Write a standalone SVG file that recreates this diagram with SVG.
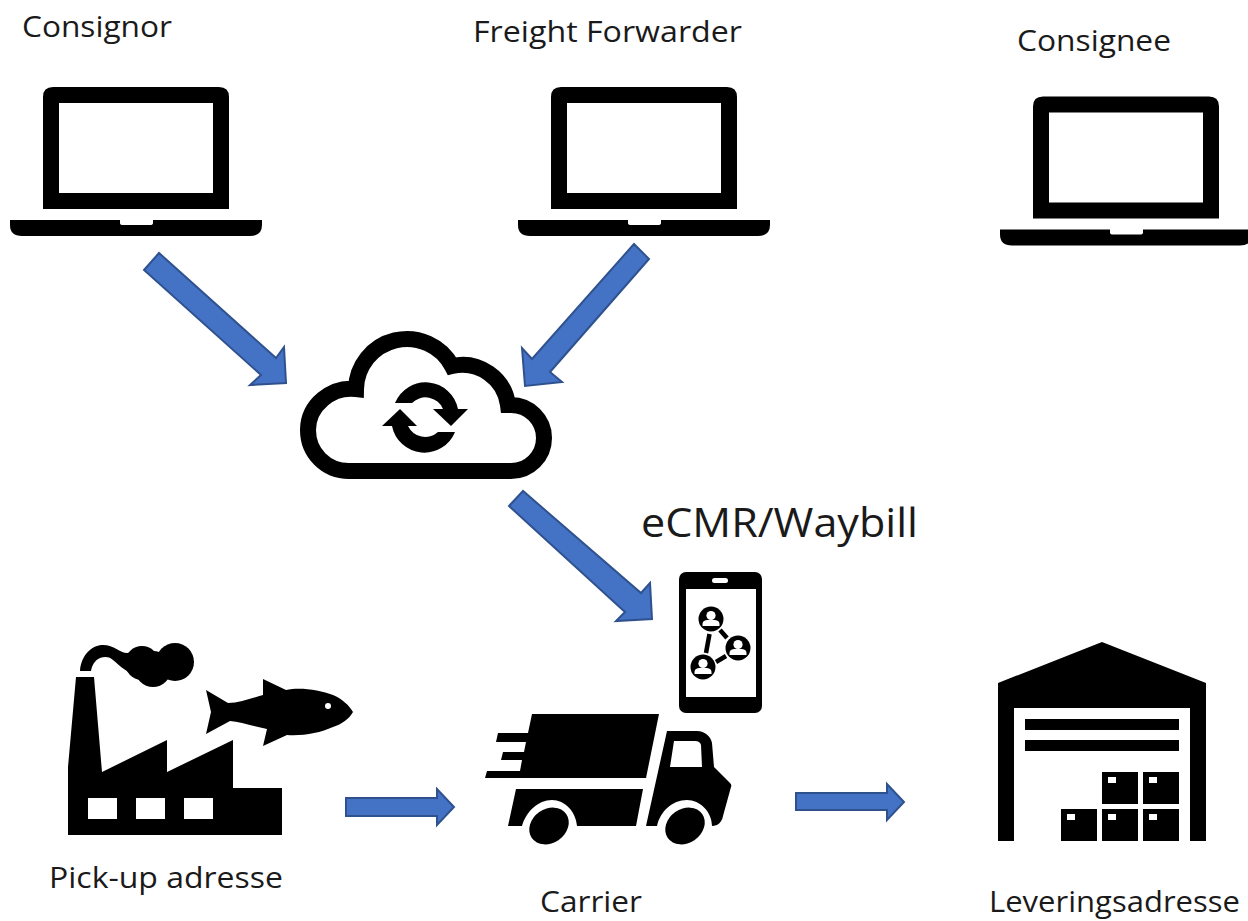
<svg xmlns="http://www.w3.org/2000/svg" width="1248" height="921" viewBox="0 0 1248 921">
<style>
.t{font-family:"Open Sans","Noto Sans","Liberation Sans",sans-serif;font-size:30px;fill:#1a1a1a}
.a{fill:#4472C4;stroke:#2F528F;stroke-width:2}
.k{fill:#000}
.w{fill:#fff}
</style>
<defs>
<g id="laptop">
<path class="k" fill-rule="evenodd" d="M53 87H219Q229 87 229 97V209H43V97Q43 87 53 87ZM59 103V193H213V103Z"/>
<path class="k" d="M10 220H120V223Q120 225 123 225H150Q153 225 153 223V220H262V225Q262 236 250 236H22Q10 236 10 225Z"/>
</g>
<g id="person">
<circle class="k" r="12.500"/>
<circle class="w" cy="-3.500" r="4.600"/>
<path class="w" d="M-8.500 7V5Q-8.500 1.500-4 1H4Q8.500 1.500 8.500 5V7Z"/>
</g>
</defs>
<rect width="1248" height="921" fill="#fff"/>
<g id="connectors">
<polygon class="a" points="159,253 144,270 261,375 250,385 286,383 284,347 276,358"/>
<polygon class="a" points="634,244 649,259 550,372 562,382 525,386 522,348 532,359"/>
<polygon class="a" points="523,491 509,506 625,612 616,621 652,619 650,583 641,593"/>
<polygon class="a" points="346,798 437,798 437,789 454,807 437,825 437,816 346,816"/>
<polygon class="a" points="796,793 887,793 887,784 904,802 887,820 887,810 796,810"/>
</g>
<g id="consignor"><use href="#laptop"/><text class="t" x="22" y="37" textLength="150" lengthAdjust="spacingAndGlyphs">Consignor</text></g>
<g id="freight-forwarder"><use href="#laptop" x="508"/><text class="t" x="473" y="42" textLength="269" lengthAdjust="spacingAndGlyphs">Freight Forwarder</text></g>
<g id="consignee"><use href="#laptop" transform="translate(990 9.500)"/><text class="t" x="1017" y="51" textLength="154" lengthAdjust="spacingAndGlyphs">Consignee</text></g>
<g id="cloud">
<path fill="#fff" stroke="#000" stroke-width="16" stroke-linejoin="miter" d="M349 471H511A33 33 0 0 0 511 405H508A46 46 0 0 0 452 366A51 51 0 0 0 356 389C332 386 308 405 308 430C308 453 326 471 349 471Z"/>
<path class="k" d="M395 403A33 33 0 0 1 458 409H443A19 19 0 0 0 412 403Z"/>
<polygon class="k" points="433,409 468,409 451,426"/>
<path class="k" d="M392 426A33 33 0 0 0 455 432H438A19 19 0 0 1 408 426Z"/>
<polygon class="k" points="382,426 417,426 400,409"/>
</g>
<g id="phone">
<text class="t" x="641" y="537" style="font-size:41px" textLength="277" lengthAdjust="spacingAndGlyphs">eCMR/Waybill</text>
<rect class="k" x="679" y="572" width="83" height="141" rx="7"/>
<rect class="w" x="686" y="589" width="70" height="108"/>
<rect class="w" x="712" y="578" width="16" height="5" rx="2.500"/>
<path stroke="#000" stroke-width="4.500" d="M709.500 634L706 653M720 630L727 638M716 662L726 656"/>
<use href="#person" x="711" y="619"/>
<use href="#person" x="738" y="648"/>
<use href="#person" x="703" y="667"/>
</g>
<g id="pickup">
<path class="k" d="M76 677H94L102 772L167 740V772L233 740V788H282V835H68V767Z"/>
<rect class="w" x="88" y="798" width="29" height="21"/>
<rect class="w" x="136" y="798" width="29" height="21"/>
<rect class="w" x="184" y="798" width="29" height="21"/>
<path class="k" d="M80 671C81 655 92 645 103 645C114 645 120 653 127 653C132 653 136 648 142 646L140 676C128 674 120 666 113 660C108 656 104 657 100 658C95 660 92 665 91 671Z"/>
<circle class="k" cx="175" cy="662" r="19"/>
<circle class="k" cx="153" cy="669" r="18"/>
<circle class="k" cx="142" cy="663" r="17"/>
<path class="k" d="M206 690L228 703C240 703 252 698 263 695L263 679L286 690C300 687 320 690 333 695C342 699 349 705 353 712C349 719 342 724 333 727C320 733 303 736 287 735L263 746L267 729C253 726 240 722 230 721L206 734L211 712Z"/>
<circle class="w" cx="328" cy="706" r="3"/>
<text class="t" x="49" y="888" textLength="234" lengthAdjust="spacingAndGlyphs">Pick-up adresse</text>
</g>
<g id="carrier">
<polygon class="k" points="532,714 659,714 646,778 485,778 487,771 520,771 522,760 501,760 503,752 524,752 526,742 496,742 498,733 528,733"/>
<path class="k" d="M516 789H643L636 826H577C576 812 565 800 552 800C538 800 526 812 522 826H508Z"/>
<path class="k" fill-rule="evenodd" d="M667 731H697C705 731 711 737 712 743L714 767L730 783Q732 785 731 787L723 816C722 822 718 826 712 826C712 812 700 800 687 800C672 800 660 812 657 826H646ZM674 741L670 767H702L701 745Q700 741 695 741Z"/>
<ellipse class="k" cx="549" cy="826" rx="21" ry="17" transform="rotate(-35 549 826)"/>
<ellipse class="k" cx="685" cy="826" rx="21" ry="17" transform="rotate(-35 685 826)"/>
<text class="t" x="540" y="912" textLength="102" lengthAdjust="spacingAndGlyphs">Carrier</text>
</g>
<g id="delivery">
<path class="k" d="M1102 642L1206 683V841H1190V708H1014V841H998V683Z"/>
<rect class="k" x="1025" y="719" width="154" height="11"/>
<rect class="k" x="1025" y="740" width="154" height="11"/>
<path class="k" d="M1102 772h36v32h-36zM1143 772h36v32h-36zM1061 809h36v32h-36zM1102 809h36v32h-36zM1143 809h36v32h-36z"/>
<path class="w" d="M1108 777h8v6h-8zM1149 777h8v6h-8zM1067 814h8v6h-8zM1108 814h8v6h-8zM1149 814h8v6h-8z"/>
<text class="t" x="989" y="912" style="font-size:29px" textLength="251" lengthAdjust="spacingAndGlyphs">Leveringsadresse</text>
</g>
</svg>
